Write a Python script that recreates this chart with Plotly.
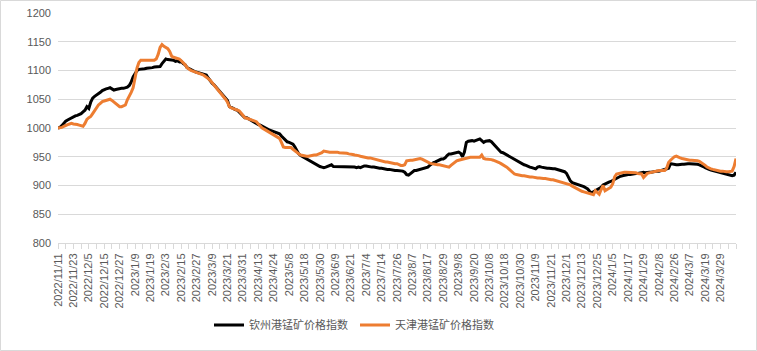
import plotly.graph_objects as go

tick_labels = [
    "2022/11/11", "2022/11/23", "2022/12/5", "2022/12/15", "2022/12/27",
    "2023/1/9", "2023/1/19", "2023/2/3", "2023/2/15", "2023/2/27",
    "2023/3/9", "2023/3/21", "2023/3/31", "2023/4/13", "2023/4/24",
    "2023/5/8", "2023/5/18", "2023/5/30", "2023/6/9", "2023/6/21",
    "2023/7/4", "2023/7/14", "2023/7/26", "2023/8/7", "2023/8/17",
    "2023/8/29", "2023/9/8", "2023/9/20", "2023/10/8", "2023/10/18",
    "2023/10/30", "2023/11/9", "2023/11/21", "2023/12/1", "2023/12/13",
    "2023/12/25", "2024/1/5", "2024/1/17", "2024/1/29", "2024/2/8",
    "2024/2/26", "2024/3/7", "2024/3/19", "2024/3/29",
]

series_names = ["钦州港锰矿价格指数", "天津港锰矿价格指数"]

qinzhou = [
    1000, 1001, 1004, 1009, 1012, 1014, 1016, 1018,
    1020, 1021, 1022, 1023, 1025, 1028, 1031, 1037,
    1034, 1045, 1052, 1055, 1057, 1059, 1062, 1065,
    1067, 1068, 1069, 1070, 1068, 1066, 1067, 1068,
    1068, 1069, 1069, 1070, 1071, 1074, 1080, 1089,
    1094, 1100, 1102, 1102, 1103, 1103, 1104, 1104,
    1105, 1105, 1106, 1106, 1107, 1107, 1112, 1117,
    1120, 1119, 1119, 1118, 1118, 1116, 1117, 1115,
    1116, 1112, 1110, 1105, 1103, 1101, 1099, 1098,
    1097, 1096, 1095, 1094, 1093, 1092, 1087, 1082,
    1078, 1075, 1071, 1068, 1064, 1060, 1055, 1052,
    1048, 1037, 1036, 1034, 1032, 1031, 1028, 1025,
    1021, 1018, 1018, 1016, 1014, 1012, 1010, 1007,
    1006, 1005, 1003, 1001, 999, 998, 996, 995,
    994, 993, 991, 990, 986, 982, 978, 976,
    975, 973, 972, 967, 961, 955, 952, 950,
    948, 946, 944, 942, 940, 938, 936, 935,
    933, 932, 931, 932, 933, 934, 936, 933,
    933, 933, 933, 932, 932, 932, 933, 932,
    932, 932, 932, 931, 932, 931, 933, 934,
    934, 933, 933, 932, 932, 931, 931, 930,
    930, 929, 929, 928, 928, 927, 927, 926,
    926, 926, 926, 925, 923, 919, 918, 921,
    924, 926, 926, 927, 928, 929, 929, 930,
    932, 935, 938, 940, 941, 943, 944, 946,
    946, 948, 952, 955, 955, 956, 957, 957,
    958, 956, 950, 958, 975, 977, 978, 978,
    977, 978, 979, 981, 978, 975, 977, 978,
    978, 976, 972, 969, 966, 961, 958, 957,
    955, 954, 952, 950, 948, 946, 944, 942,
    939, 938, 936, 935, 933, 932, 931, 930,
    929, 932, 933, 932, 931, 930, 930, 930,
    929, 929, 929, 928, 928, 927, 926, 924,
    921, 915, 908, 905, 904, 903, 902, 900,
    899, 898, 896, 894, 890, 887, 889, 891,
    893, 894, 897, 901, 903, 904, 906, 907,
    909, 911, 913, 915, 916, 917, 918, 918,
    919, 919, 920, 920, 921, 921, 922, 923,
    923, 922, 923, 923, 923, 924, 924, 925,
    925, 926, 927, 928, 929, 930, 938, 937,
    937, 936, 936, 937, 937, 937, 938, 938,
    938, 938, 938, 938, 937, 936, 935, 933,
    931, 929, 928, 927, 926, 925, 924, 923,
    923, 922, 921, 920, 919, 918, 917, 918,
    923,
]

tianjin = [
    1000, 1000, 1001, 1003, 1005, 1006, 1007, 1008,
    1007, 1007, 1006, 1005, 1004, 1003, 1008, 1015,
    1018, 1020, 1025, 1030, 1036, 1040, 1043, 1046,
    1047, 1048, 1049, 1050, 1048, 1045, 1042, 1039,
    1037, 1037, 1038, 1040, 1049, 1055, 1062, 1070,
    1090, 1104, 1114, 1118, 1118, 1118, 1118, 1118,
    1118, 1118, 1118, 1120, 1128, 1140, 1145, 1142,
    1140, 1138, 1133, 1125, 1123, 1122, 1122, 1120,
    1117, 1114, 1110, 1105, 1102, 1100, 1099, 1098,
    1097, 1096, 1095, 1093, 1091, 1089, 1086, 1083,
    1079, 1075, 1071, 1067, 1063, 1060, 1055, 1050,
    1045, 1037, 1035, 1034, 1033, 1032, 1030, 1026,
    1021, 1018, 1017, 1016, 1015, 1014, 1013, 1011,
    1007, 1003, 1000, 998, 996, 993, 991, 990,
    988, 986, 984, 982, 975, 967, 966, 966,
    966, 966, 963, 960, 957, 955, 953, 952,
    951, 951, 951, 952, 952, 953, 953, 954,
    955, 957, 960, 959, 958, 958, 958, 958,
    959, 958, 957, 957, 957, 956, 956, 955,
    955, 954, 953, 953, 952, 951, 950, 949,
    949, 948, 948, 947, 946, 946, 945, 944,
    943, 942, 941, 941, 940, 939, 939, 938,
    938, 936, 935, 935, 936, 943, 944, 944,
    944, 945, 946, 946, 947, 946, 944, 942,
    940, 939, 938, 937, 937, 936, 936, 935,
    935, 934, 933, 932, 935, 938, 941, 943,
    944, 945, 946, 947, 948, 948, 949, 949,
    949, 949, 949, 949, 953, 947, 946, 946,
    945, 945, 944, 943, 942, 940, 938, 936,
    935, 932, 929, 926, 923, 920, 919, 918,
    918, 917, 917, 916, 916, 915, 915, 914,
    914, 913, 913, 912, 912, 912, 911, 911,
    910, 910, 909, 909, 908, 907, 906, 905,
    903, 902, 901, 899, 897, 895, 893, 891,
    890, 889, 888, 886, 885, 885, 884, 891,
    888, 885, 893, 900, 891, 893, 895, 897,
    903, 915, 920, 921, 922, 923, 923, 923,
    923, 923, 923, 922, 922, 921, 920, 920,
    914, 918, 921, 922, 923, 924, 925, 926,
    926, 926, 926, 926, 930, 940, 944, 947,
    950, 951, 949, 948, 947, 946, 945, 944,
    944, 944, 944, 943, 943, 942, 940, 938,
    935, 932, 930, 929, 928, 927, 926, 925,
    925, 925, 924, 924, 924, 925, 925, 933,
    947,
]

W, H = 757, 351
ML, MR, MT, MB = 58, 21, 13, 108
pw, ph = W - ML - MR, H - MT - MB

x_idx = list(range(len(qinzhou)))
tickvals = list(range(0, 8 * len(tick_labels), 8))

fig = go.Figure()
fig.add_trace(go.Scatter(x=x_idx, y=qinzhou, mode="lines", name=series_names[0],
                         line=dict(color="#000000", width=3)))
fig.add_trace(go.Scatter(x=x_idx, y=tianjin, mode="lines", name=series_names[1],
                         line=dict(color="#ED7D31", width=3)))

grid = "#d9d9d9"
txt = "#595959"

fig.update_layout(
    width=W, height=H,
    margin=dict(l=ML, r=MR, t=MT, b=MB, pad=0, autoexpand=False),
    paper_bgcolor="white", plot_bgcolor="white",
    font=dict(family="Liberation Sans, Noto Sans CJK SC, sans-serif", size=11, color=txt),
    showlegend=True,
    legend=dict(orientation="h", x=(209 - ML) / pw, xanchor="left",
                y=(MT + ph - 325) / ph, yanchor="middle",
                font=dict(family="Noto Sans CJK SC, sans-serif", size=11, color=txt),
                itemwidth=30, entrywidth=101, entrywidthmode="pixels"),
    xaxis=dict(
        range=[0, len(qinzhou) - 1], automargin=False,
        tickmode="array", tickvals=tickvals, ticktext=tick_labels,
        tickangle=-90, tickfont=dict(size=11, color=txt),
        ticks="outside", ticklen=5, tickcolor=grid, tickwidth=1,
        showgrid=False, zeroline=False,
        showline=True, linecolor=grid, linewidth=1,
        minor=dict(tickmode="linear", tick0=0, dtick=4, ticks="outside",
                   ticklen=5, tickcolor=grid, tickwidth=1, showgrid=False),
    ),
    yaxis=dict(
        range=[800, 1200], automargin=False, tickmode="linear", tick0=800, dtick=50,
        showgrid=True, gridcolor=grid, gridwidth=1,
        zeroline=False, showline=False, ticks="", ticklabelstandoff=6,
        tickfont=dict(size=11, color=txt),
    ),
    shapes=[dict(
        type="rect", xref="paper", yref="paper",
        x0=(0.5 - ML) / pw, x1=(W - 0.5 - ML) / pw,
        y0=(MT + ph - (H - 0.5)) / ph, y1=(MT + ph - 0.5) / ph,
        line=dict(color=grid, width=1), fillcolor="rgba(0,0,0,0)", layer="below",
    )],
)

fig.write_html("out.html")
